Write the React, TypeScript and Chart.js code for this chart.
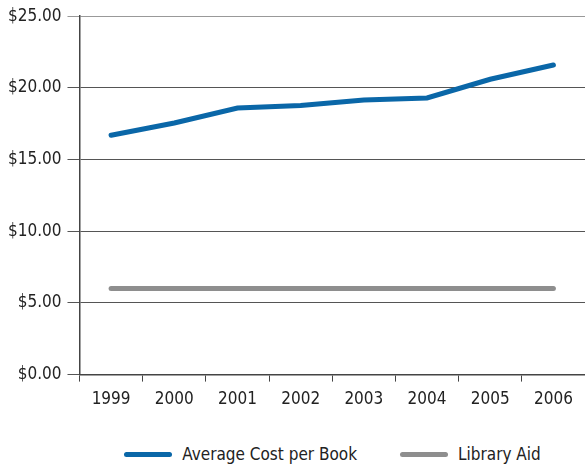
import React, { useEffect, useRef } from "react";
import { Chart, registerables } from "chart.js";

Chart.register(...registerables);

const years = ["1999", "2000", "2001", "2002", "2003", "2004", "2005", "2006"];
const avgCost = [16.7, 17.55, 18.6, 18.77, 19.15, 19.3, 20.6, 21.6];
const libraryAid = [6.0, 6.0, 6.0, 6.0, 6.0, 6.0, 6.0, 6.0];
const seriesNames = ["Average Cost per Book", "Library Aid"];
const seriesColors = ["#0A67A8", "#8E8E8E"];

const FONT = "'Liberation Sans Narrow', 'DejaVu Sans Condensed', 'Roboto', sans-serif";

export default function App() {
  const ref = useRef<HTMLCanvasElement | null>(null);
  useEffect(() => {
    document.body.style.margin = "0";
    const ctx = ref.current!;
    const chart = new Chart(ctx, {
      type: "line",
      data: {
        labels: years,
        datasets: [
          {
            label: seriesNames[0],
            data: avgCost,
            borderColor: seriesColors[0],
            backgroundColor: seriesColors[0],
            borderWidth: 5,
            pointRadius: 0,
            borderCapStyle: "round",
            tension: 0,
          },
          {
            label: seriesNames[1],
            data: libraryAid,
            borderColor: seriesColors[1],
            backgroundColor: seriesColors[1],
            borderWidth: 5,
            pointRadius: 0,
            borderCapStyle: "round",
            tension: 0,
          },
        ],
      },
      options: {
        animation: false,
        responsive: false,
        maintainAspectRatio: false,
        layout: { padding: { top: 4, right: 0, left: 2, bottom: 2 } },
        scales: {
          x: {
            offset: true,
            grid: {
              offset: true,
              drawOnChartArea: false,
              drawTicks: true,
              tickLength: 7,
              color: "#444",
              lineWidth: 1,
            },
            border: { display: true, color: "#444", width: 1.5 },
            ticks: {
              color: "#222",
              font: { family: FONT, size: 17 },
              padding: 8,
            },
          },
          y: {
            min: 0,
            max: 25,
            ticks: {
              stepSize: 5,
              color: "#222",
              font: { family: FONT, size: 17 },
              padding: 6,
              callback: (v: any) => "$" + Number(v).toFixed(2),
            },
            grid: {
              color: (c: any) => (c.tick && c.tick.value === 25 ? "#999" : "#555"),
              lineWidth: 1,
              tickLength: 12,
              drawTicks: true,
            },
            border: { display: true, color: "#444", width: 1.5 },
          },
        },
        plugins: {
          tooltip: { enabled: false },
          legend: { display: false },
        },
      },
    });
    return () => chart.destroy();
  }, []);
  return (
    <div style={{ width: 585, height: 464, position: "relative", fontFamily: FONT }}>
      <canvas ref={ref} width={585} height={420} style={{ width: 585, height: 420, display: "block" }} />
      <div
        style={{
          position: "absolute",
          left: 80,
          width: 505,
          top: 443,
          height: 22,
          display: "flex",
          justifyContent: "center",
          alignItems: "center",
          gap: 43,
          fontSize: 17,
          color: "#222",
        }}
      >
        {seriesNames.map((n, i) => (
          <div key={n} style={{ display: "flex", alignItems: "center" }}>
            <span
              style={{
                display: "inline-block",
                width: 48,
                height: 5,
                borderRadius: 3,
                background: seriesColors[i],
                marginRight: 10,
              }}
            />
            <span>{n}</span>
          </div>
        ))}
      </div>
    </div>
  );
}
